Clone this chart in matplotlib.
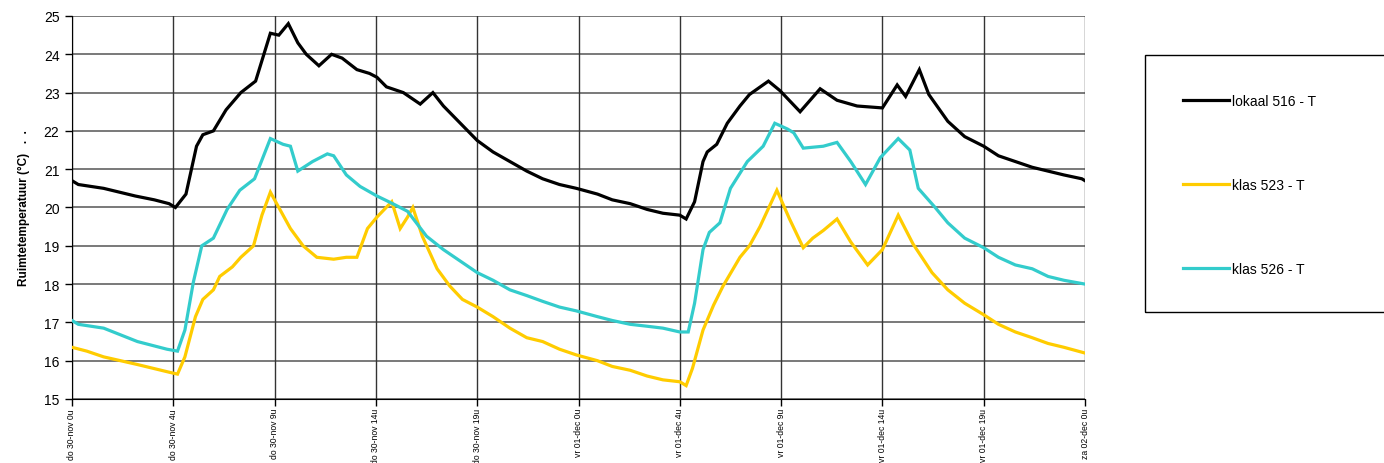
import matplotlib
matplotlib.use("Agg")
import matplotlib.pyplot as plt
from matplotlib.patches import Rectangle

# ---- data (hours since do 30-nov 0u, temperature in °C) ----
t_516 = [0, 0.3, 1.5, 3.0, 3.9, 4.6, 4.9, 5.4, 5.9, 6.2, 6.7, 7.3, 8.0, 8.7, 9.4, 9.8, 10.25, 10.7,
         11.1, 11.7, 12.3, 12.8, 13.5, 14.1, 14.45, 14.9, 15.7, 16.5, 17.1, 17.6, 18.4, 19.2, 19.95,
         20.75, 21.55, 22.3, 23.1, 23.9, 24.9, 25.6, 26.45, 27.25, 28.0, 28.8, 29.1, 29.5, 29.9,
         30.1, 30.55, 31.05, 31.65, 32.1, 33.0, 33.55, 34.5, 35.45, 36.25, 37.2, 38.4, 39.1, 39.5,
         40.15, 40.6, 41.5, 42.3, 43.2, 43.9, 44.7, 45.5, 46.25, 47.0, 47.85, 48.0]
T_516 = [20.7, 20.6, 20.5, 20.3, 20.2, 20.1, 20.0, 20.35, 21.6, 21.9, 22.0, 22.55, 23.0, 23.3, 24.55,
         24.5, 24.8, 24.3, 24.0, 23.7, 24.0, 23.9, 23.6, 23.5, 23.4, 23.15, 23.0, 22.7, 23.0, 22.65,
         22.2, 21.75, 21.45, 21.2, 20.95, 20.75, 20.6, 20.5, 20.35, 20.2, 20.1, 19.95, 19.85, 19.8,
         19.7, 20.15, 21.2, 21.45, 21.65, 22.2, 22.65, 22.95, 23.3, 23.05, 22.5, 23.1, 22.8, 22.65,
         22.6, 23.2, 22.9, 23.6, 22.95, 22.25, 21.85, 21.6, 21.35, 21.2, 21.05, 20.95, 20.85, 20.75,
         20.7]

t_523 = [0, 0.7, 1.5, 3.1, 4.6, 5.0, 5.35, 5.85, 6.2, 6.7, 7.0, 7.6, 8.0, 8.6, 9.0, 9.4, 9.85, 10.35,
         10.95, 11.6, 12.4, 13.0, 13.5, 14.0, 14.45, 15.15, 15.55, 15.9, 16.15, 16.6, 17.3, 17.9,
         18.5, 19.2, 19.95, 20.75, 21.55, 22.3, 23.1, 23.9, 24.9, 25.6, 26.45, 27.25, 28.0, 28.8,
         29.1, 29.4, 29.9, 30.4, 30.85, 31.65, 32.1, 32.6, 33.4, 34.0, 34.65, 35.1, 35.6, 36.25,
         36.9, 37.7, 38.4, 39.15, 39.85, 40.75, 41.5, 42.3, 43.2, 43.9, 44.7, 45.5, 46.25, 47.0, 48.0]
T_523 = [16.35, 16.25, 16.1, 15.9, 15.7, 15.65, 16.1, 17.15, 17.6, 17.85, 18.2, 18.45, 18.7, 19.0,
         19.8, 20.4, 19.95, 19.45, 19.0, 18.7, 18.65, 18.7, 18.7, 19.45, 19.75, 20.15, 19.45, 19.75,
         20.0, 19.25, 18.4, 17.95, 17.6, 17.4, 17.15, 16.85, 16.6, 16.5, 16.3, 16.15, 16.0, 15.85,
         15.75, 15.6, 15.5, 15.45, 15.35, 15.8, 16.8, 17.45, 17.95, 18.7, 19.0, 19.5, 20.45, 19.7,
         18.95, 19.2, 19.4, 19.7, 19.1, 18.5, 18.9, 19.8, 19.05, 18.3, 17.85, 17.5, 17.2, 16.95,
         16.75, 16.6, 16.45, 16.35, 16.2]

t_526 = [0, 0.3, 1.5, 3.1, 4.5, 5.0, 5.35, 5.75, 6.15, 6.7, 7.35, 7.95, 8.65, 9.4, 10.0, 10.35, 10.7,
         11.4, 12.1, 12.4, 13.0, 13.65, 14.45, 15.2, 15.9, 16.8, 17.6, 18.4, 19.2, 19.95, 20.75,
         21.55, 22.3, 23.1, 23.9, 24.9, 25.6, 26.45, 27.25, 28.0, 28.8, 29.2, 29.5, 29.9, 30.2, 30.7,
         31.2, 32.0, 32.75, 33.3, 33.9, 34.2, 34.65, 35.6, 36.25, 36.9, 37.6, 38.3, 39.15, 39.7,
         40.1, 40.9, 41.5, 42.3, 43.2, 43.9, 44.7, 45.5, 46.25, 47.0, 48.0]
T_526 = [17.05, 16.95, 16.85, 16.5, 16.3, 16.25, 16.8, 18.05, 19.0, 19.2, 19.95, 20.45, 20.75, 21.8,
         21.65, 21.6, 20.95, 21.2, 21.4, 21.35, 20.85, 20.55, 20.3, 20.1, 19.9, 19.25, 18.9, 18.6,
         18.3, 18.1, 17.85, 17.7, 17.55, 17.4, 17.3, 17.15, 17.05, 16.95, 16.9, 16.85, 16.75, 16.75,
         17.5, 18.9, 19.35, 19.6, 20.5, 21.2, 21.6, 22.2, 22.05, 21.95, 21.55, 21.6, 21.7, 21.2,
         20.6, 21.3, 21.8, 21.5, 20.5, 20.0, 19.6, 19.2, 18.95, 18.7, 18.5, 18.4, 18.2, 18.1, 18.0]

labels = ["lokaal 516 - T", "klas 523 - T", "klas 526 - T"]
colors = ["#000000", "#FFCC00", "#33CCCC"]

tick_hours = [0, 4.8, 9.6, 14.4, 19.2, 24.0, 28.8, 33.6, 38.4, 43.2, 48.0]
tick_labels = ["do 30-nov 0u", "do 30-nov 4u", "do 30-nov 9u", "do 30-nov 14u", "do 30-nov 19u",
               "vr 01-dec 0u", "vr 01-dec 4u", "vr 01-dec 9u", "vr 01-dec 14u", "vr 01-dec 19u",
               "za 02-dec 0u"]
y_ticks = list(range(15, 26))

plt.rcParams["font.family"] = ["Liberation Sans", "DejaVu Sans"]

fig = plt.figure(figsize=(13.84, 4.64), dpi=100)
ax = fig.add_axes([72 / 1384, 1 - 400 / 464, (1085 - 72) / 1384, (400 - 17) / 464])

lines = []
for t, T, lab, c in [(t_516, T_516, labels[0], colors[0]),
                     (t_523, T_523, labels[1], colors[1]),
                     (t_526, T_526, labels[2], colors[2])]:
    ln, = ax.plot(t, T, color=c, lw=2.3, label=lab, solid_joinstyle="miter", zorder=3)
    lines.append(ln)

ax.set_xlim(0, 48)
ax.set_ylim(15, 25)
ax.set_xticks(tick_hours)
ax.set_xticklabels(tick_labels, rotation=90, va="top", ha="center", fontsize=6.2)
ax.set_yticks(y_ticks)
ax.set_yticklabels([str(v) for v in y_ticks], fontsize=10)
ax.tick_params(axis="both", direction="out", length=5, width=1, color="#000000")
ax.tick_params(axis="x", pad=1.5)
ax.tick_params(axis="y", pad=4)

for v in y_ticks:
    ax.axhline(v, color="#555555", lw=1.1, zorder=1)
for h in tick_hours:
    ax.axvline(h, color="#333333", lw=1.0, zorder=1)

for s in ["top", "right"]:
    ax.spines[s].set_visible(False)
ax.spines["left"].set_color("#000000")
ax.spines["bottom"].set_color("#000000")

ax.set_ylabel("Ruimtetemperatuur (°C)   .  .", fontsize=8.5, fontweight="semibold",
              labelpad=10)

# legend frame
fig.patches.append(Rectangle((1145 / 1384, 1 - 313 / 464), 0.2, (313 - 56) / 464,
                             transform=fig.transFigure, fill=False, edgecolor="#000000",
                             lw=1.0, clip_on=False))
fig.legend(handles=lines, labels=labels, loc="upper left",
           bbox_to_anchor=(1183 / 1384, 1 - 95 / 464), frameon=False, fontsize=10,
           handlelength=3.3, handletextpad=0.2, labelspacing=5.05, borderpad=0,
           borderaxespad=0)

fig.savefig("out.png", dpi=100, facecolor="white")
